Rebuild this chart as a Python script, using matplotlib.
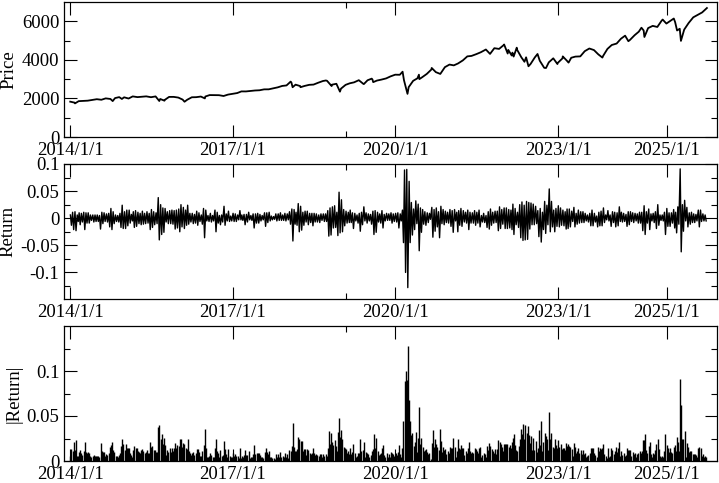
import numpy as np
import pandas as pd
import matplotlib
matplotlib.use("Agg")
import matplotlib.pyplot as plt
import matplotlib.dates as mdates
from matplotlib.ticker import FixedLocator, FixedFormatter

plt.rcParams['font.family'] = ['Liberation Serif', 'DejaVu Serif']
plt.rcParams['axes.unicode_minus'] = False

# ---------------- data ----------------
price_dates = [
    '2014-01-02', '2014-01-31', '2014-02-03', '2014-02-28', '2014-03-31', '2014-04-30', '2014-05-30',
    '2014-06-30', '2014-07-31', '2014-08-29', '2014-09-30', '2014-10-15', '2014-10-31', '2014-11-28',
    '2014-12-16', '2014-12-31',
    '2015-01-30', '2015-02-27', '2015-03-31', '2015-04-30', '2015-05-29', '2015-06-30', '2015-07-31',
    '2015-08-25', '2015-08-31', '2015-09-29', '2015-09-30', '2015-10-30', '2015-11-30', '2015-12-31',
    '2016-01-29', '2016-02-11', '2016-02-29', '2016-03-31', '2016-04-29', '2016-05-31', '2016-06-27',
    '2016-06-30', '2016-07-29', '2016-08-31', '2016-09-30', '2016-10-31', '2016-11-30', '2016-12-30',
    '2017-01-31', '2017-02-28', '2017-03-31', '2017-04-28', '2017-05-31', '2017-06-30', '2017-07-31',
    '2017-08-31', '2017-09-29', '2017-10-31', '2017-11-30', '2017-12-29',
    '2018-01-26', '2018-01-31', '2018-02-08', '2018-02-28', '2018-03-31', '2018-04-02', '2018-04-30',
    '2018-05-31', '2018-06-29', '2018-07-31', '2018-08-31', '2018-09-20', '2018-09-28', '2018-10-29',
    '2018-10-31', '2018-11-30', '2018-12-24', '2018-12-31',
    '2019-01-31', '2019-02-28', '2019-03-29', '2019-04-30', '2019-05-31', '2019-06-03', '2019-06-28',
    '2019-07-26', '2019-07-31', '2019-08-05', '2019-08-30', '2019-09-30', '2019-10-31', '2019-11-29',
    '2019-12-31',
    '2020-01-31', '2020-02-19', '2020-02-28', '2020-03-23', '2020-03-31', '2020-04-30', '2020-05-29',
    '2020-06-08', '2020-06-11', '2020-06-30', '2020-07-31', '2020-08-31', '2020-09-02', '2020-09-30',
    '2020-10-30', '2020-11-30', '2020-12-31',
    '2021-01-29', '2021-02-26', '2021-03-31', '2021-04-30', '2021-05-28', '2021-06-30', '2021-07-30',
    '2021-08-31', '2021-09-02', '2021-09-30', '2021-10-29', '2021-11-30', '2021-12-31',
    '2022-01-03', '2022-01-27', '2022-01-31', '2022-02-23', '2022-02-28', '2022-03-08', '2022-03-29',
    '2022-03-31', '2022-04-29', '2022-05-20', '2022-05-31', '2022-06-16', '2022-06-30', '2022-07-29',
    '2022-08-16', '2022-08-31', '2022-09-30', '2022-10-12', '2022-10-31', '2022-11-30', '2022-12-28',
    '2022-12-30',
    '2023-01-31', '2023-02-02', '2023-02-28', '2023-03-13', '2023-03-31', '2023-04-28', '2023-05-31',
    '2023-06-30', '2023-07-31', '2023-08-31', '2023-09-29', '2023-10-27', '2023-10-31', '2023-11-30',
    '2023-12-29',
    '2024-01-31', '2024-02-29', '2024-03-28', '2024-04-19', '2024-04-30', '2024-05-31', '2024-06-28',
    '2024-07-16', '2024-07-31', '2024-08-05', '2024-08-30', '2024-09-30', '2024-10-31', '2024-11-29',
    '2024-12-06', '2024-12-31',
    '2025-01-31', '2025-02-19', '2025-02-28', '2025-03-13', '2025-03-31', '2025-04-08', '2025-04-30',
    '2025-05-30', '2025-06-30', '2025-07-31', '2025-08-29', '2025-09-30',
]
price_values = [
    1832, 1783, 1742, 1859, 1872, 1884, 1924, 1960, 1931, 2003, 1972, 1862, 2018, 2068, 1973, 2059,
    1995, 2105, 2068, 2086, 2107, 2063, 2104, 1867, 1972, 1882, 1920, 2079, 2080, 2044,
    1940, 1829, 1932, 2060, 2065, 2097, 2001, 2099, 2174, 2171, 2168, 2126, 2199, 2239,
    2279, 2364, 2363, 2384, 2412, 2423, 2470, 2472, 2519, 2575, 2648, 2674,
    2873, 2824, 2581, 2714, 2641, 2582, 2648, 2705, 2718, 2816, 2902, 2931, 2914, 2641, 2712, 2760,
    2351, 2507,
    2704, 2784, 2834, 2946, 2752, 2744, 2942, 3026, 2980, 2845, 2926, 2977, 3038, 3141, 3231,
    3226, 3386, 2954, 2237, 2585, 2912, 3044, 3232, 3002, 3100, 3271, 3500, 3580, 3363, 3270, 3622,
    3756,
    3714, 3811, 3973, 4181, 4204, 4298, 4395, 4523, 4537, 4308, 4605, 4567, 4766,
    4797, 4327, 4516, 4226, 4374, 4171, 4632, 4530, 4132, 3901, 4132, 3667, 3785, 4130, 4305, 3955,
    3586, 3577, 3872, 4080, 3783, 3840,
    4077, 4179, 3970, 3856, 4109, 4169, 4180, 4450, 4589, 4508, 4288, 4117, 4194, 4568, 4770,
    4846, 5096, 5254, 4967, 5036, 5278, 5460, 5667, 5522, 5186, 5648, 5762, 5705, 6032, 6090, 5882,
    6041, 6144, 5955, 5522, 5612, 4983, 5569, 5912, 6205, 6339, 6460, 6688,
]

# daily (log) return extremes in percent, per half month:
# for every month [high 1st half, low 1st half, high 2nd half, low 2nd half]
ret_2014 = [0.6, -1.3, 1.1, -2.1,  1.2, -2.3, 0.6, -0.6,  1.0, -1.2, 0.9, -0.7,  1.1, -2.1, 1.0, -0.9,
            1.0, -0.9, 0.6, -0.4,  0.6, -0.7, 0.6, -0.6,  0.6, -0.6, 0.5, -2.0,  1.1, -1.0, 1.0, -0.6,
            0.8, -0.7, 0.9, -1.6,  1.8, -2.1, 1.2, -1.0,  0.6, -0.6, 0.5, -0.7,  0.9, -1.7, 2.4, -1.9]
ret_2015 = [1.2, -1.9, 1.5, -1.4,  1.5, -0.9, 0.7, -0.5,  1.2, -1.7, 1.4, -1.5,  1.1, -1.0, 0.9, -1.2,
            1.3, -1.1, 0.9, -1.0,  1.2, -0.9, 0.9, -2.1,  1.6, -1.7, 1.2, -1.2,  1.0, -1.0, 3.8, -4.0,
            2.5, -3.0, 1.9, -2.6,  1.8, -0.7, 1.2, -1.0,  1.4, -1.0, 1.5, -1.1,  1.4, -2.0, 1.5, -1.8]
ret_2016 = [1.7, -2.5, 2.5, -1.6,  2.0, -1.9, 1.5, -1.3,  2.4, -1.1, 0.9, -0.7,  0.9, -1.0, 0.7, -0.9,
            1.3, -1.3, 1.0, -0.6,  0.6, -1.1, 1.8, -3.6,  1.5, -0.5, 0.5, -0.6,  0.9, -0.7, 0.5, -0.5,
            1.5, -2.5, 1.1, -0.9,  0.5, -1.2, 0.6, -0.7,  2.2, -1.3, 0.8, -0.5,  1.3, -0.6, 0.4, -0.5]
ret_2017 = [0.9, -0.6, 0.8, -0.6,  0.6, -0.3, 1.4, -0.3,  0.6, -0.4, 0.7, -1.2,  0.7, -0.7, 1.1, -0.3,
            0.5, -0.4, 0.8, -1.8,  0.8, -0.9, 0.9, -0.9,  0.7, -0.5, 0.5, -0.3,  1.0, -1.5, 1.0, -0.8,
            1.1, -0.5, 0.4, -0.3,  0.3, -0.2, 0.8, -0.5,  0.8, -0.4, 1.0, -0.4,  0.6, -0.4, 0.9, -0.5]
ret_2018 = [0.8, -0.3, 1.2, -1.1,  1.7, -4.2, 1.6, -1.1,  1.1, -1.3, 2.7, -2.5,  2.2, -2.2, 1.1, -1.3,
            1.3, -0.7, 1.3, -1.2,  0.9, -0.8, 0.9, -1.4,  0.9, -0.7, 0.8, -0.7,  0.6, -0.8, 0.8, -0.4,
            0.8, -0.6, 0.8, -0.6,  1.4, -3.3, 1.9, -3.1,  2.1, -1.8, 2.3, -1.7,  1.1, -3.2, 4.8, -2.7]
ret_2019 = [3.4, -2.5, 1.6, -1.4,  1.3, -0.9, 1.1, -0.8,  1.5, -0.8, 1.0, -1.9,  0.9, -0.5, 0.6, -0.9,
            0.9, -2.4, 1.1, -1.2,  2.1, -0.5, 1.0, -0.9,  0.8, -0.5, 0.7, -1.1,  1.3, -3.0, 1.4, -2.6,
            1.1, -0.7, 0.8, -0.9,  1.4, -1.8, 0.7, -0.5,  0.9, -0.4, 0.8, -0.4,  1.0, -0.9, 0.8, -0.6]
ret_2020 = [0.9, -0.7, 1.0, -1.8,  0.8, -0.5, 1.5, -4.5,  8.9, -10.0, 9.0, -12.8,  6.8, -4.5, 2.9, -3.1,
            1.7, -2.1, 3.2, -1.0,  2.6, -6.0, 1.9, -2.6,  1.6, -1.1, 1.2, -1.3,  1.0, -0.8, 0.9, -0.2,
            2.0, -3.5, 1.6, -2.4,  1.9, -1.6, 1.2, -3.6,  2.2, -1.0, 1.6, -1.2,  1.3, -0.8, 1.1, -0.9]
ret_2021 = [1.6, -1.5, 1.4, -2.6,  1.6, -0.5, 1.1, -2.5,  1.4, -1.3, 1.8, -1.5,  1.4, -0.7, 1.1, -0.9,
            1.5, -2.1, 1.1, -0.9,  1.0, -0.9, 1.4, -1.3,  1.1, -0.9, 1.5, -1.6,  0.5, -0.7, 0.9, -0.8,
            0.5, -1.7, 1.2, -2.0,  1.7, -1.3, 1.1, -0.9,  1.3, -0.8, 1.3, -2.3,  2.1, -1.9, 1.6, -1.1]
ret_2022 = [1.9, -1.9, 1.9, -1.9,  1.6, -1.8, 1.5, -2.1,  2.6, -3.0, 1.8, -1.2,  1.1, -1.7, 2.5, -3.6,
            3.0, -4.1, 2.4, -4.0,  3.1, -3.9, 2.9, -2.0,  2.8, -1.2, 2.6, -1.2,  2.2, -1.0, 1.4, -3.4,
            1.8, -4.4, 1.1, -2.1,  3.1, -2.8, 2.4, -1.2,  5.4, -2.5, 3.1, -1.6,  1.5, -2.5, 1.8, -1.5]
ret_2023 = [2.3, -1.6, 1.9, -1.3,  1.5, -1.4, 1.2, -2.0,  1.7, -1.9, 1.7, -1.6,  1.3, -0.6, 2.0, -1.6,
            0.9, -1.1, 1.5, -0.9,  1.2, -0.8, 1.2, -0.8,  0.9, -0.5, 0.6, -0.7,  0.9, -1.4, 1.5, -1.4,
            0.9, -0.7, 0.4, -1.6,  1.1, -1.4, 1.3, -1.4,  1.9, -0.8, 0.6, -0.3,  1.4, -0.5, 0.6, -1.5]
ret_2024 = [1.2, -0.8, 1.1, -1.6,  1.0, -1.4, 2.1, -0.6,  1.1, -0.7, 0.9, -0.6,  0.7, -1.5, 1.2, -1.2,
            1.2, -0.6, 1.0, -0.8,  0.9, -0.5, 0.8, -0.9,  1.1, -0.9, 1.1, -2.3,  2.3, -3.0, 1.2, -0.9,
            1.7, -2.1, 0.8, -0.5,  0.9, -0.8, 1.2, -1.9,  2.5, -1.3, 0.6, -0.4,  0.6, -0.5, 1.1, -3.0]
ret_2025 = [1.8, -1.5, 1.0, -1.5,  1.0, -0.9, 1.6, -1.8,  1.1, -2.7, 2.1, -1.1,  9.1, -6.2, 2.5, -2.4,
            3.3, -0.5, 2.0, -1.6,  1.0, -1.1, 1.1, -0.8,  0.8, -0.8, 0.7, -0.5,  1.5, -1.6, 1.5, -0.6,
            0.8, -0.5, 0.6, -0.5]
return_days_in_month = [3, 10, 18, 25]   # where the four extremes of each month are placed

major_tick_dates = ['2014-01-01', '2017-01-01', '2020-01-01', '2023-01-01', '2025-01-01']
major_tick_labels = ['2014/1/1', '2017/1/1', '2020/1/1', '2023/1/1', '2025/1/1']
minor_tick_dates = ['2019-02-03']
x_range = ['2013-11-21', '2025-12-07']

# ---------------- derived series ----------------
p_dates = pd.to_datetime(price_dates)
ret_pct = (ret_2014 + ret_2015 + ret_2016 + ret_2017 + ret_2018 + ret_2019 + ret_2020 +
           ret_2021 + ret_2022 + ret_2023 + ret_2024 + ret_2025)
n_months = len(ret_pct) // 4
months = pd.date_range('2014-01-01', periods=n_months, freq='MS')
r_dates = []
for m in months:
    for d in return_days_in_month:
        r_dates.append(m + pd.Timedelta(days=d - 1))
r_dates = pd.to_datetime(r_dates)
r_vals = np.array(ret_pct) / 100.0

# ---------------- figure ----------------
W, H = 719, 483
fig = plt.figure(figsize=(W / 100, H / 100), dpi=100)

def box(top, bottom, left=64, right=717):
    return [left / W, 1 - bottom / H, (right - left) / W, (bottom - top) / H]

ax1 = fig.add_axes(box(2, 137))
ax2 = fig.add_axes(box(164, 299))
ax3 = fig.add_axes(box(326, 461))

ax1.plot(p_dates, price_values, color='black', lw=1.3)
ax2.plot(r_dates, r_vals, color='black', lw=1.0)
ax3.vlines(r_dates, 0, np.abs(r_vals), color='black', lw=1.0)

xmaj = mdates.date2num(pd.to_datetime(major_tick_dates))
xmin = mdates.date2num(pd.to_datetime(minor_tick_dates))

def style(ax, ylim, yticks, yminor, ylabels, ylabel):
    ax.set_xlim(pd.Timestamp(x_range[0]), pd.Timestamp(x_range[1]))
    ax.set_ylim(*ylim)
    ax.xaxis.set_major_locator(FixedLocator(xmaj))
    ax.xaxis.set_major_formatter(FixedFormatter(major_tick_labels))
    ax.xaxis.set_minor_locator(FixedLocator(xmin))
    ax.yaxis.set_major_locator(FixedLocator(yticks))
    ax.yaxis.set_major_formatter(FixedFormatter(ylabels))
    ax.yaxis.set_minor_locator(FixedLocator(yminor))
    ax.tick_params(which='both', direction='in', top=True, right=True, width=0.8,
                   labelsize=13.5, pad=3.4, colors='black')
    ax.tick_params(which='major', length=9)
    ax.tick_params(which='minor', length=4.5)
    for s in ax.spines.values():
        s.set_linewidth(0.9)
    ax.set_ylabel(ylabel, fontsize=13.5, labelpad=3)

style(ax1, (0, 7000), [0, 2000, 4000, 6000], [1000, 3000, 5000],
      ['0', '2000', '4000', '6000'], 'Price')
style(ax2, (-0.149, 0.1), [-0.1, -0.05, 0, 0.05, 0.1], [-0.125, -0.075, -0.025, 0.025, 0.075],
      ['-0.1', '-0.05', '0', '0.05', '0.1'], 'Return')
style(ax3, (0, 0.15), [0, 0.05, 0.1], [0.025, 0.075, 0.125],
      ['0', '0.05', '0.1'], '|Return|')

fig.savefig('out.png', dpi=100)
